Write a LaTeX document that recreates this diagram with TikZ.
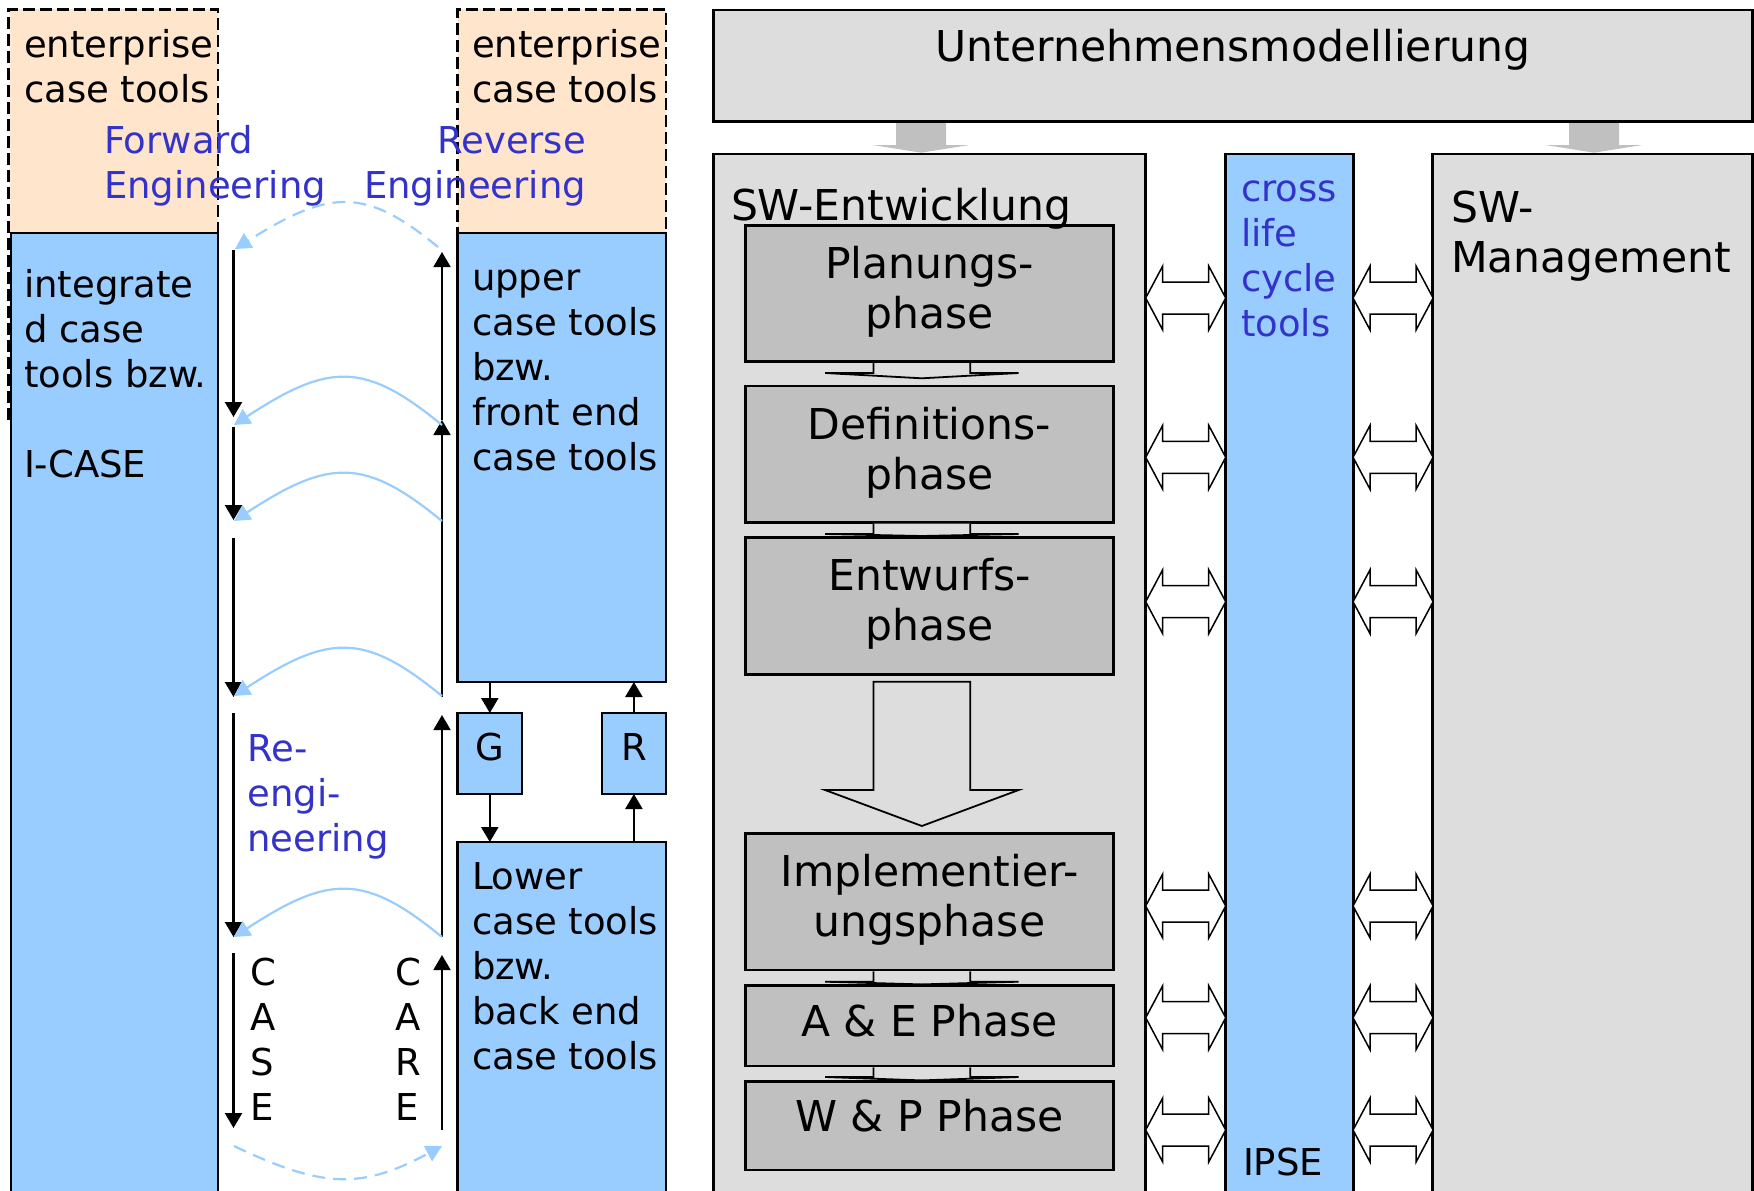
\documentclass[tikz,border=0pt]{standalone}
\usepackage{fontspec}
\setmainfont{DejaVu Sans}
\usetikzlibrary{arrows.meta,calc}

\definecolor{peach}{RGB}{255,229,204}
\definecolor{toolblue}{RGB}{153,204,255}
\definecolor{panelgray}{RGB}{221,221,221}
\definecolor{phasegray}{RGB}{192,192,192}
\definecolor{labelblue}{RGB}{51,51,204}

\newcommand\sizeA{\fontsize{37}{45}\selectfont}
\newcommand\sizeB{\fontsize{42.5}{50}\selectfont}

% flat block arrow from one phase box to the next:
% #1 source, #2 target, #3 shaft length, #4 gap left before the target
\newcommand\phasestep[4]{%
  \filldraw[blockarrow]
    ($(#1.south)+(-56.1,1.3)$) -- ($(#1.south)+(-56.1,#3)$) -- ($(#1.south)+(-104.5,#3)$)
    -- ($(#2.north)+(-7.7,-#4)$)
    -- ($(#1.south)+(89.1,#3)$) -- ($(#1.south)+(40.7,#3)$) -- ($(#1.south)+(40.7,1.3)$);
}

% grey arrow from the enterprise model down to a column:
% #1 source, #2 target, #3 coordinate giving the x position
\newcommand\feedarrow[3]{%
  \fill[phasegray]
    ($(#1.south -| #3)+(-25,1.3)$) -- ($(#1.south -| #3)+(25,1.3)$) -- ($(#2.north -| #3)+(25,-9)$)
    -- ($(#2.north -| #3)+(48.5,-9)$) -- ($(#2.north -| #3)+(0,-1.3)$) -- ($(#2.north -| #3)+(-48.5,-9)$)
    -- ($(#2.north -| #3)+(-25,-9)$) -- cycle;
}

\tikzset{
  syncarrow/.pic={
    \filldraw[fill=white,draw=black,line width=1.5pt]
      (-40,0) -- (-23,-32) -- (-23,-16) -- (23,-16) -- (23,-32) -- (40,0)
      -- (23,32) -- (23,16) -- (-23,16) -- (-23,32) -- cycle;
  }
}

\begin{document}
\begin{tikzpicture}[x=1pt,y=-1pt,
  box/.style={draw=black,line width=2.5pt,inner sep=0pt,outer sep=0pt,anchor=north west},
  toolbox/.style={box,fill=toolblue},
  panel/.style={box,fill=panelgray},
  phase/.style={box,fill=phasegray,minimum width=367.7pt,align=center,font=\sizeB},
  caption/.style={inner sep=0pt,outer sep=0pt,anchor=north west,align=left,font=\sizeA},
  bluecaption/.style={caption,text=labelblue},
  flow/.style={line width=2.4pt,-{Triangle[width=17pt,length=15pt]}},
  flowback/.style={line width=1.8pt,-{Triangle[width=17pt,length=15pt]}},
  transfer/.style={draw=toolblue,line width=2.2pt,-{Triangle[width=17pt,length=16pt]}},
  transferdash/.style={transfer,dash pattern=on 13pt off 8pt},
  boundary/.style={line width=2.8pt,dash pattern=on 12pt off 5pt},
  blockarrow/.style={draw=black,line width=1.8pt,fill=panelgray}]

\useasboundingbox (0,0) rectangle (1754,1191);
\clip (0,0) rectangle (1754,1191);

% ---------- CASE tool classes ----------
\node[box,draw=none,fill=peach,minimum width=208.2pt,minimum height=223.7pt] (entA) at (9.8,9.3) {};
\node[box,draw=none,fill=peach,minimum width=208.4pt,minimum height=223.7pt] (entB) at (457.6,9.3) {};

\node[toolbox,minimum width=207.2pt,minimum height=970pt] (icase) at (10.8,233) {};
\node[toolbox,minimum width=208.4pt,minimum height=449pt] (upper) at (457.6,233) {};
\node[toolbox,minimum width=64.4pt,minimum height=81pt,font=\sizeA,text height=27pt,text depth=14pt] (gbox) at (457.6,713) {G};
\node[toolbox,minimum width=64.2pt,minimum height=81pt,font=\sizeA,text height=27pt,text depth=14pt] (rbox) at (601.8,713) {R};
\node[toolbox,minimum width=208.4pt,minimum height=360pt] (lower) at (457.6,842) {};

% dashed outline of the enterprise layer
\draw[boundary] (8.5,420) -- (8.5,9.3) -- (218,9.3) -- (218,420);
\draw[boundary] (457.6,426) -- (457.6,9.3) -- (666,9.3) -- (666,426);

% texts
\node[caption] (entAtext) at (24,26) {\strut enterprise\\case tools};
\node[caption] (entBtext) at (472,26) {\strut enterprise\\case tools};
\node[bluecaption] (fwdtext) at (104,122) {\strut Forward\\Engineering};
\node[bluecaption,anchor=north east,align=right] (revtext) at (586,122) {\strut Reverse\\Engineering};
\node[caption] (icasetext) at (24,266) {\strut integrate\\d case\\tools bzw.\\[45pt]I-CASE};
\node[caption] (uppertext) at (472,259) {\strut upper\\case tools\\bzw.\\front end\\case tools};
\node[bluecaption] (reengtext) at (247.5,730) {\strut Re-\\engi-\\neering};
\node[caption] (casetext) at (250,954) {\strut C\\A\\S\\E};
\node[caption] (caretext) at (395,954) {\strut C\\A\\R\\E};
\node[caption] (lowertext) at (472,858) {\strut Lower\\case tools\\bzw.\\back end\\case tools};

% generator / reverse boxes
\draw[flow] (upper.south -| gbox.north) -- (gbox.north);
\draw[flow] (gbox.south) -- (gbox.south |- lower.north);
\draw[flow] (rbox.north) -- (rbox.north |- upper.south);
\draw[flow] (rbox.south |- lower.north) -- (rbox.south);

% forward engineering (down) and reverse engineering (up)
\foreach \a/\b [count=\i] in {250/417,427/520,538/697,713/937,953/1128} {
  \coordinate (fw\i a) at (233.5,\a);
  \coordinate (fw\i b) at (233.5,\b);
  \draw[flow] (fw\i a) -- (fw\i b);
}
\foreach \a/\b [count=\i] in {420/252,697/420,937/715,1130/955} {
  \coordinate (rv\i a) at (442,\a);
  \coordinate (rv\i b) at (442,\b);
  \draw[flowback] (rv\i a) -- (rv\i b);
}

% transfers between the two sides
\foreach \y [count=\i] in {425,521,696,937} {
  \coordinate (src\i) at (442,\y);
  \coordinate (dst\i) at (234,\y);
  \draw[transfer] (src\i) .. controls +(-77,-63) and +(96,-63) .. (dst\i);
}
\coordinate (topS) at (438,247);
\coordinate (topE) at (235,249);
\draw[transferdash] (topS) .. controls +(-73,-60) and +(95,-60) .. (topE);
\coordinate (botS) at (234,1146);
\coordinate (botE) at (442,1146);
\draw[transferdash] (botS) .. controls +(90,43) and +(-80,43) .. (botE);

% ---------- software life cycle ----------
\node[panel,minimum width=1039.3pt,minimum height=111.7pt,font=\sizeB,text height=30pt,text depth=38.3pt] (um) at (713.4,10) {Unternehmensmodellierung};
\node[panel,minimum width=432.3pt,minimum height=1050pt] (swe) at (713.4,154) {};
\node[toolbox,minimum width=127.7pt,minimum height=1050pt] (clc) at (1225.7,154) {};
\node[panel,minimum width=320pt,minimum height=1050pt] (swm) at (1432.7,154) {};

\coordinate (feedA) at (921,0);
\coordinate (feedB) at (1594,0);
\feedarrow{um}{swe}{feedA}
\feedarrow{um}{swm}{feedB}

\node[phase,minimum height=136pt] (p1) at (745.7,225.7) {\strut Planungs-\\phase\strut};
\node[phase,minimum height=136.3pt] (p2) at (745.7,386) {\strut Definitions-\\phase\strut};
\node[phase,minimum height=137pt] (p3) at (745.7,537.3) {\strut Entwurfs-\\phase\strut};
\node[phase,minimum height=136.7pt] (p4) at (745.7,833.3) {\strut Implementier-\\ungsphase\strut};
\node[phase,minimum height=80.3pt,text height=30pt,text depth=8.3pt] (p5) at (745.7,985.7) {A \& E Phase};
\node[phase,minimum height=88.3pt,text height=30pt,text depth=18.3pt] (p6) at (745.7,1081.7) {W \& P Phase};

\phasestep{p1}{p2}{11.3}{7.7}
\phasestep{p2}{p3}{11.7}{1.3}
\phasestep{p4}{p5}{11.7}{1.3}
\phasestep{p5}{p6}{11}{1.3}
\filldraw[blockarrow]
  ($(p3.south)+(-56.1,7.4)$) -- ($(p3.south)+(40.7,7.4)$) -- ($(p3.south)+(40.7,115.7)$)
  -- ($(p3.south)+(89.1,115.7)$) -- ($(p4.north)+(-7.7,-7.3)$)
  -- ($(p3.south)+(-104.5,115.7)$) -- ($(p3.south)+(-56.1,115.7)$) -- cycle;

\node[caption,font=\sizeB] (swetext) at (731,185) {\strut SW-Entwicklung};
\node[caption,font=\sizeB] (swmtext) at (1451,187) {\strut SW-\\Management};
\node[bluecaption] (clctext) at (1241,169.5) {\strut cross\\life\\cycle\\tools};
\node[caption] (ipsetext) at (1243,1144) {\strut IPSE};

% exchange between development, cross life cycle tools and management
\path ($(swe.north east)!0.5!(clc.north west)$) coordinate (gapA);
\path ($(clc.north east)!0.5!(swm.north west)$) coordinate (gapB);
\foreach \r in {298,457.3,601.7,906,1017.7,1130} {
  \coordinate (row) at (0,\r);
  \pic at (gapA |- row) {syncarrow};
  \pic at (gapB |- row) {syncarrow};
}
\end{tikzpicture}
\end{document}
